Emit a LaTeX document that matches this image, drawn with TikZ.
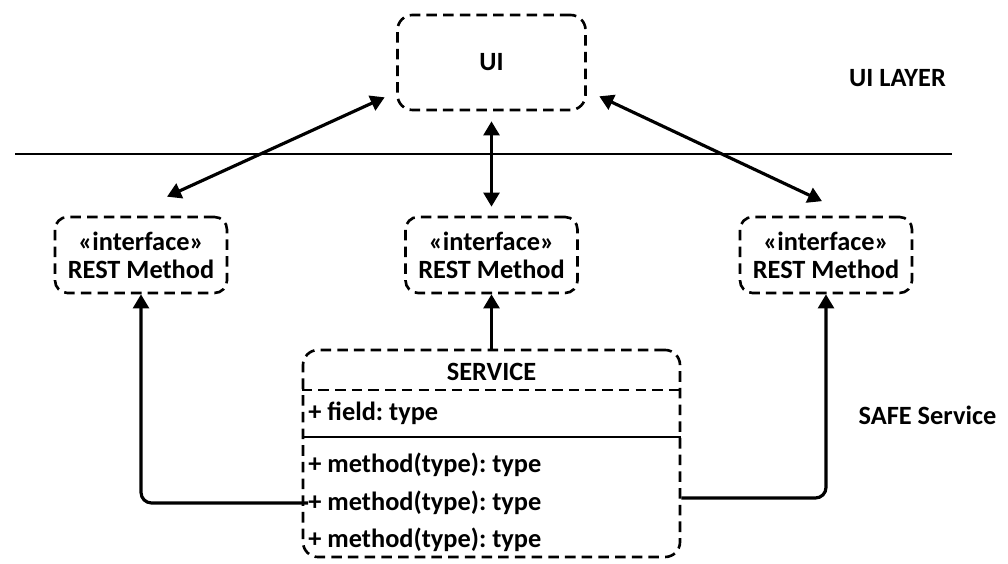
\documentclass[tikz,border=0pt]{standalone}
\usepackage{fontspec}
\setmainfont{Carlito}
\usepackage{tikz}
\usetikzlibrary{arrows.meta,positioning,calc}
\frenchspacing

\begin{document}
\begin{tikzpicture}[
font=\fontsize{15}{16}\selectfont\bfseries,
dashbox/.style={draw, line width=1.5pt, dash pattern=on 6pt off 3.5pt, align=center, inner sep=0pt},
conn/.style={line width=1.8pt, -{Triangle[length=8pt,width=9pt]}},
biconn/.style={line width=1.8pt, {Triangle[length=8pt,width=9pt]}-{Triangle[length=8pt,width=9pt]}},
member/.style={anchor=west, inner sep=0pt},
]
\useasboundingbox (0,0) rectangle (20.16,11.26);

% UI layer
\node[dashbox, rounded corners=0.3cm, minimum width=3.76cm, minimum height=1.9cm] (ui) at (9.83,10.01) {UI};
\node (uilayer) at (17.95,9.70) {UI LAYER};
\draw[line width=0.9pt] (0.30,8.18) -- (19.04,8.18);

% interfaces
\node[dashbox, rounded corners=0.25cm, minimum width=3.44cm, minimum height=1.52cm] (ifL) at (2.82,6.16) {«interface»\\REST Method};
\node[dashbox, rounded corners=0.25cm, minimum width=3.44cm, minimum height=1.52cm] (ifM) at (9.83,6.16) {«interface»\\REST Method};
\node[dashbox, rounded corners=0.25cm, minimum width=3.44cm, minimum height=1.52cm] (ifR) at (16.52,6.16) {«interface»\\REST Method};

\draw[biconn] ($(ifL.north)+(0.52,0.38)$) -- ($(ui.south west)+(-0.23,0.28)$);
\draw[biconn] ($(ifM.north)+(0,0.18)$) -- ($(ui.south)+(0,-0.2)$);
\draw[biconn] ($(ifR.north)+(-0.08,0.29)$) -- ($(ui.south east)+(0.25,0.30)$);

% service class
\node[dashbox, rounded corners=0.3cm, minimum width=7.54cm, minimum height=4.14cm] (svc) at (9.83,2.19) {};
\node (svcname) at (9.83,3.82) {SERVICE};
\coordinate (d1) at (0,3.46);
\coordinate (d2) at (0,2.52);
\draw[line width=1.5pt, dash pattern=on 6pt off 3.5pt] (svc.west |- d1) -- (svc.east |- d1);
\draw[line width=1.3pt] (svc.west |- d2) -- (svc.east |- d2);
\node[member] (f1) at (6.16,3.0) {+ field: type};
\node[member] (m1) at (6.16,1.96) {+ method(type): type};
\node[member] (m2) at (6.16,1.20) {+ method(type): type};
\node[member] (m3) at (6.16,0.46) {+ method(type): type};
\node (safe) at (18.55,2.96) {SAFE Service};

\draw[conn] (svc.north) -- (ifM.south);
\draw[conn, rounded corners=6pt] (m2.west) -| (ifL.south);
\draw[conn, rounded corners=6pt] ($(svc.east |- m2)+(0,0.1)$) -| (ifR.south);

\end{tikzpicture}
\end{document}
